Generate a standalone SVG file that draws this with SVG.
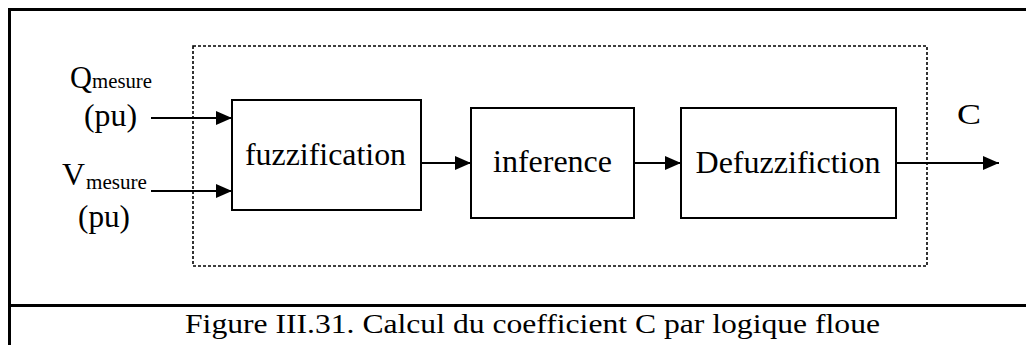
<svg xmlns="http://www.w3.org/2000/svg" width="1026" height="345" viewBox="0 0 1026 345">
<style>
.frame{fill:none;stroke:#000;stroke-width:3}
.box{fill:#fff;stroke:#000;stroke-width:2}
.dot{fill:none;stroke:#000;stroke-width:1.6;stroke-dasharray:3 2}
.ln{fill:none;stroke:#000;stroke-width:2}
.t{font-family:"Liberation Serif","Times New Roman",serif;fill:#000}
.cap{font-family:"Liberation Serif","Palatino Linotype",serif;fill:#000;font-size:28px}
</style>
<defs>
<marker id="ah" viewBox="0 0 16 14" refX="16" refY="7" markerWidth="16" markerHeight="14" markerUnits="userSpaceOnUse" orient="auto">
<path d="M0,0 L16,7 L0,14 Z" fill="#000"/>
</marker>
</defs>
<rect width="1026" height="345" fill="#fff"/>
<g id="frame">
<path class="frame" d="M1026,9.5 H9.5 V345"/>
<path class="frame" d="M9.5,305.5 H1026"/>
</g>
<g id="system">
<rect class="dot" x="193" y="46" width="734" height="220"/>
</g>
<g id="inputs">
<text class="t" x="70" y="88" font-size="31" textLength="22" lengthAdjust="spacingAndGlyphs">Q</text>
<text class="t" x="92" y="88" font-size="20" textLength="60" lengthAdjust="spacingAndGlyphs">mesure</text>
<text class="t" x="84" y="126" font-size="31" textLength="53" lengthAdjust="spacingAndGlyphs">(pu)</text>
<text class="t" x="62" y="185" font-size="31" textLength="23" lengthAdjust="spacingAndGlyphs">V</text>
<text class="t" x="86" y="189" font-size="20" textLength="61" lengthAdjust="spacingAndGlyphs">mesure</text>
<text class="t" x="78" y="227" font-size="31" textLength="52" lengthAdjust="spacingAndGlyphs">(pu)</text>
</g>
<g id="fuzzification">
<rect class="box" x="232" y="100" width="189" height="110"/>
<text class="t" x="325.5" y="165" font-size="32" text-anchor="middle" textLength="161" lengthAdjust="spacingAndGlyphs">fuzzification</text>
</g>
<g id="inference">
<rect class="box" x="471" y="108" width="163" height="110"/>
<text class="t" x="552.5" y="172" font-size="32" text-anchor="middle" textLength="119" lengthAdjust="spacingAndGlyphs">inference</text>
</g>
<g id="defuzzification">
<rect class="box" x="681" y="108" width="215" height="110"/>
<text class="t" x="788" y="173" font-size="32" text-anchor="middle" textLength="185" lengthAdjust="spacingAndGlyphs">Defuzzifiction</text>
</g>
<g id="output">
<text class="t" x="957" y="124" font-size="30" textLength="24" lengthAdjust="spacingAndGlyphs">C</text>
</g>
<g id="connectors">
<line class="ln" x1="151" y1="118" x2="232" y2="118" marker-end="url(#ah)"/>
<line class="ln" x1="151" y1="191" x2="232" y2="191" marker-end="url(#ah)"/>
<line class="ln" x1="421" y1="163" x2="471" y2="163" marker-end="url(#ah)"/>
<line class="ln" x1="634" y1="163" x2="681" y2="163" marker-end="url(#ah)"/>
<line class="ln" x1="896" y1="163" x2="999" y2="163" marker-end="url(#ah)"/>
</g>
<g id="caption">
<text class="cap" x="185" y="333" textLength="695" lengthAdjust="spacingAndGlyphs">Figure III.31. Calcul du coefficient C par logique floue</text>
</g>
</svg>
